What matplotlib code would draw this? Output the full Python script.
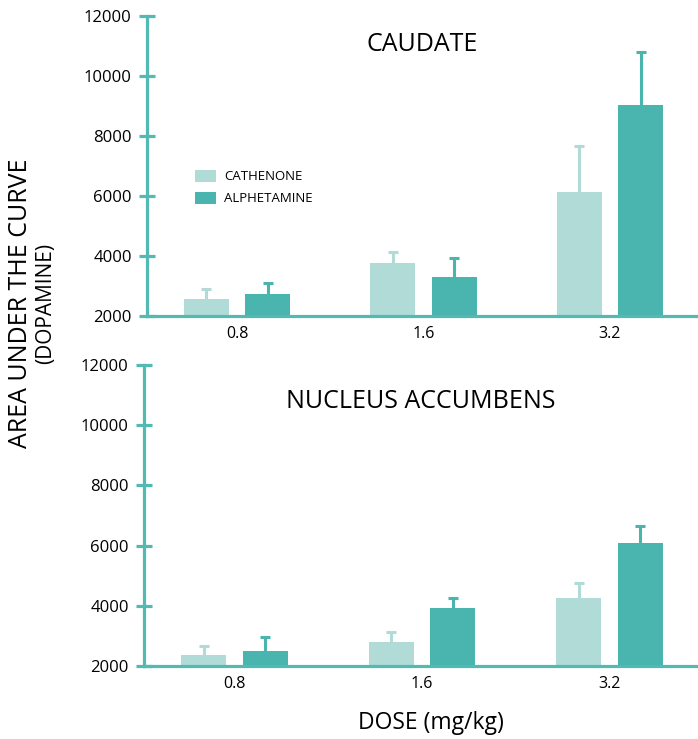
import numpy as np
import matplotlib
matplotlib.use("Agg")
import matplotlib.pyplot as plt

plt.rcParams['font.family'] = ['Open Sans', 'DejaVu Sans']

# data
doses = ["0.8", "1.6", "3.2"]
caudate_cath = [2570, 3770, 6130]
caudate_cath_err = [330, 370, 1530]
caudate_alph = [2730, 3300, 9030]
caudate_alph_err = [370, 630, 1770]

nacc_cath = [2370, 2800, 4260]
nacc_cath_err = [300, 330, 500]
nacc_alph = [2500, 3930, 6090]
nacc_alph_err = [470, 330, 560]

yticks = [2000, 4000, 6000, 8000, 10000, 12000]

light = "#b1dbd6"
dark = "#4ab5af"
axcol = "#52b9b3"

fig = plt.figure(figsize=(6.98, 7.39), dpi=100)
ax1 = fig.add_axes([0.2106, 0.5724, 0.7894, 0.4060])
ax2 = fig.add_axes([0.2063, 0.0988, 0.7937, 0.4073])

x = np.arange(len(doses))
w = 0.241
off = 0.164


def upper_err(ax, xs, vals, errs, col):
    # only the upper half of the error bar, no cap at the bar top
    _, caps, _ = ax.errorbar(xs, vals, yerr=[np.zeros(len(vals)), errs], fmt="none",
                             ecolor=col, elinewidth=2.2, capsize=3.5, capthick=2.2,
                             zorder=1)
    caps[0].set_visible(False)


def panel(ax, cath, cath_err, alph, alph_err, title, ty):
    ax.bar(x - off, cath, w, color=light, label="CATHENONE", zorder=2)
    ax.bar(x + off, alph, w, color=dark, label="ALPHETAMINE", zorder=2)
    upper_err(ax, x - off, cath, cath_err, light)
    upper_err(ax, x + off, alph, alph_err, dark)
    ax.set_ylim(2000, 12000)
    ax.set_xlim(-0.483, 2.472)
    ax.set_yticks(yticks)
    ax.set_yticklabels([str(t) for t in yticks], fontsize=12)
    ax.set_xticks(x)
    ax.set_xticklabels(doses, fontsize=11.5)
    for s in ["top", "right"]:
        ax.spines[s].set_visible(False)
    for s in ["left", "bottom"]:
        ax.spines[s].set_color(axcol)
        ax.spines[s].set_linewidth(2.3)
    ax.tick_params(axis="y", direction="inout", length=12, width=2.3,
                   color=axcol, pad=5)
    ax.tick_params(axis="x", length=0, pad=7)
    ax.text(0.5, ty, title, transform=ax.transAxes, ha="center", va="center",
            fontsize=18)


panel(ax1, caudate_cath, caudate_cath_err, caudate_alph, caudate_alph_err,
      "CAUDATE", 0.905)
panel(ax2, nacc_cath, nacc_cath_err, nacc_alph, nacc_alph_err,
      "NUCLEUS ACCUMBENS", 0.88)

ax1.legend(loc="upper left", bbox_to_anchor=(0.279, 0.77), bbox_transform=fig.transFigure,
           frameon=False, fontsize=9.5, handlelength=1.6, handleheight=1.0,
           labelspacing=0.65, handletextpad=0.6, borderpad=0, borderaxespad=0)

fig.text(0.030, 0.589, "AREA UNDER THE CURVE", rotation=90, ha="center",
         va="center", fontsize=18)
fig.text(0.066, 0.589, "(DOPAMINE)", rotation=90, ha="center", va="center",
         fontsize=15)
fig.text(0.617, 0.022, "DOSE (mg/kg)", ha="center", va="center", fontsize=16.5)

fig.savefig("out.png", dpi=100)
